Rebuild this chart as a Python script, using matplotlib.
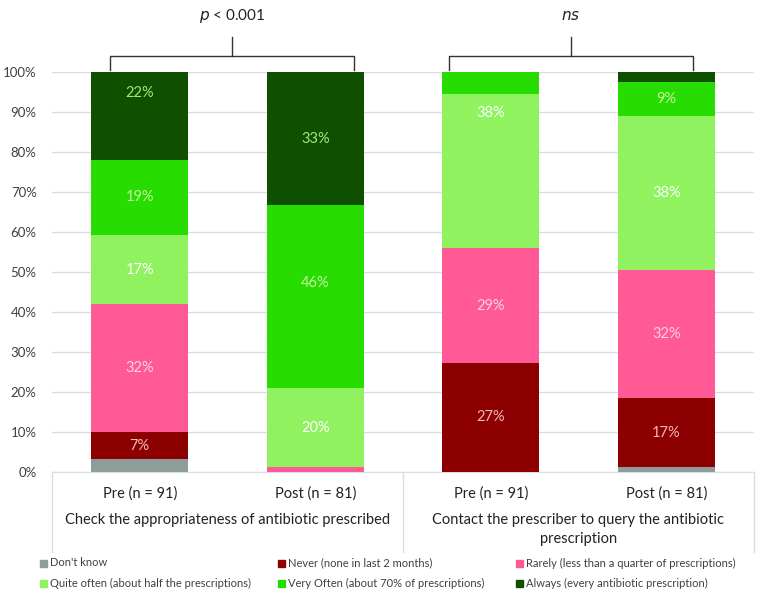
import numpy as np
import matplotlib.pyplot as plt
from matplotlib.patches import Rectangle

plt.rcParams['font.family'] = ['Lato', 'DejaVu Sans']

# bars: (group, time point)
bar_labels = ["Pre (n = 91)", "Post (n = 81)", "Pre (n = 91)", "Post (n = 81)"]
groups = ["Check the appropriateness of antibiotic prescribed",
          "Contact the prescriber to query the antibiotic\nprescription"]
series = ["Don't know",
          "Never (none in last 2 months)",
          "Rarely (less than a quarter of prescriptions)",
          "Quite often (about half the prescriptions)",
          "Very Often (about 70% of prescriptions)",
          "Always (every antibiotic prescription)"]

# percentages per series, one value per bar
dont_know   = [3.3, 0.0, 0.0, 1.2]
never       = [6.6, 0.0, 27.3, 17.3]
rarely      = [32.0, 1.2, 28.6, 32.1]
quite_often = [17.4, 19.8, 38.5, 38.3]
very_often  = [18.7, 45.7, 5.6, 8.6]
always      = [22.0, 33.3, 0.0, 2.5]
values = [dont_know, never, rarely, quite_often, very_often, always]

pvals = ["$p$ < 0.001", "$ns$"]

colors = ['#8e9c9a', '#8c0000', '#ff5a96', '#8ff25e', '#26dc00', '#0e5000']
label_colors = [None, '#f5b8b8', '#fcd2e2', 'white', '#c6f59e', '#a6e67c']
# a few labels sit off-centre in the original
label_shift = {(0, 5): 5.8, (1, 4): 3.5, (2, 3): 14.5}

fig = plt.figure(figsize=(7.62, 5.98), dpi=100)
ax = fig.add_axes([52/762, 1-472/598, 702/762, 400/598])

x = np.arange(len(bar_labels))
bottom = np.zeros(len(x))
for s, (vals, c) in enumerate(zip(values, colors)):
    vals = np.array(vals)
    ax.bar(x, vals, bottom=bottom, width=0.555, color=c, zorder=3)
    for i, v in enumerate(vals):
        if s > 0 and v >= 6:
            yc = bottom[i] + v/2 + label_shift.get((i, s), 0)
            ax.text(x[i], yc, f"{round(v)}%", ha='center', va='center',
                    color=label_colors[s], fontsize=10.5, zorder=4)
    bottom += vals

ax.set_xlim(-0.5, 3.5)
ax.set_ylim(0, 100)
ax.set_yticks(np.arange(0, 101, 10))
ax.set_yticklabels([f"{t}%" for t in range(0, 101, 10)], fontsize=9.5, color='#404040')
ax.tick_params(axis='y', length=0, pad=11)
ax.set_xticks([])
ax.grid(axis='y', color='#d8dee4', lw=1, zorder=0)
for sp in ['top', 'right', 'left']:
    ax.spines[sp].set_visible(False)
ax.spines['bottom'].set_color('#d8dee4')

# category labels below axis
tr = ax.get_xaxis_transform()
for i, lab in enumerate(bar_labels):
    ax.text(x[i], -0.053, lab, transform=tr, ha='center', va='center',
            fontsize=10.5, color='#222222')
for g, lab in enumerate(groups):
    ax.text(2*g + 0.5, -0.102, lab, transform=tr, ha='center', va='top',
            fontsize=10.5, color='#222222', linespacing=1.45)
for xs in [-0.5, 1.5, 3.5]:
    ax.plot([xs, xs], [0, -0.2], transform=tr, color='#d8dee4', lw=1, clip_on=False)

# significance brackets
brackets = [(-0.17, 1.22), (1.76, 3.15)]
for (x0, x1), p in zip(brackets, pvals):
    xm = (x0 + x1) / 2
    ax.plot([x0, x0, x1, x1], [1.005, 1.04, 1.04, 1.005], transform=tr,
            color='#333333', lw=1, clip_on=False)
    ax.plot([xm, xm], [1.04, 1.0875], transform=tr, color='#333333', lw=1, clip_on=False)
    ax.text(xm, 1.14, p, transform=tr, ha='center', va='center', fontsize=11, color='#222222')

# legend, row-major like the original
for k, (lab, c) in enumerate(zip(series, colors)):
    col, row = k % 3, k // 3
    xm = (40 + 238*col) / 762
    ym = 1 - (563 + 20*row) / 598
    fig.patches.append(Rectangle((xm, ym - 3.5/598), 7/762, 7/598, color=c,
                                 transform=fig.transFigure, figure=fig))
    fig.text(xm + 10/762, ym, lab, ha='left', va='center', fontsize=8, color='#404040')

fig.savefig('out.png', dpi=100)
